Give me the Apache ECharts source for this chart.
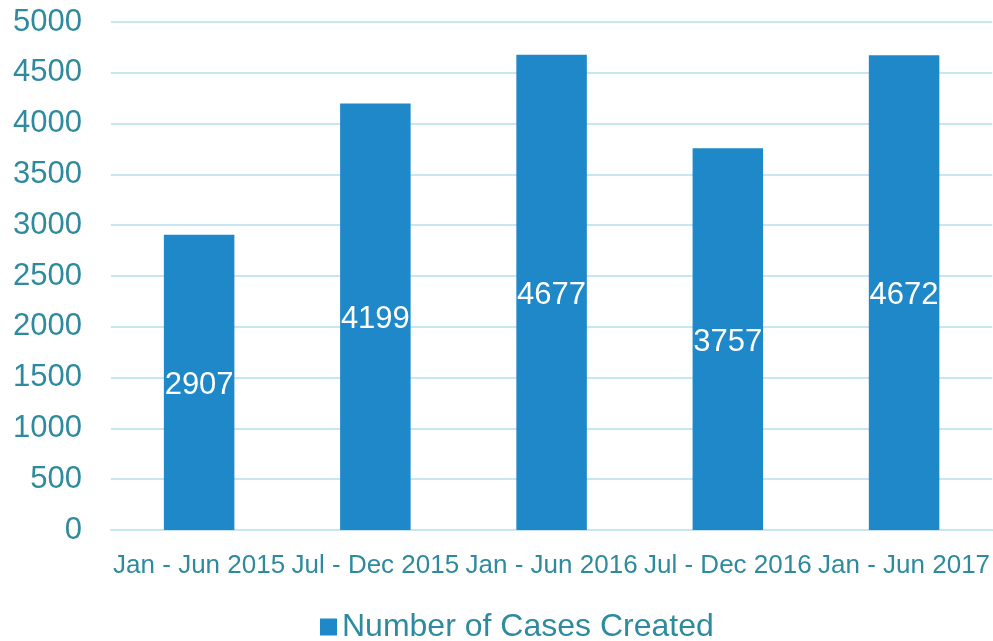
<!DOCTYPE html>
<html><head><meta charset="utf-8">
<script src="https://cdn.jsdelivr.net/npm/echarts@6/dist/echarts.min.js"></script>
<style>html,body{margin:0;padding:0;background:#fff}#c{width:993px;height:641px}</style>
</head><body><div id="c"></div>
<script>
var categories = ['Jan - Jun 2015','Jul - Dec 2015','Jan - Jun 2016','Jul - Dec 2016','Jan - Jun 2017'];
var cases = [2907, 4199, 4677, 3757, 4672];
var seriesName = 'Number of Cases Created';
var textColor = '#2e8a9e';
var chart = echarts.init(document.getElementById('c'));
chart.setOption({
  animation:false,
  textStyle:{fontFamily:'Liberation Sans, Arial, sans-serif'},
  grid:{left:111,right:0,top:22,bottom:111,containLabel:false},
  legend:{bottom:-7,left:315,itemWidth:17,itemHeight:17,itemGap:8,icon:'rect',
    textStyle:{fontSize:32,color:textColor,fontFamily:'Liberation Sans, Arial, sans-serif'},data:[seriesName]},
  xAxis:{type:'category',data:categories,
    axisLine:{show:true,lineStyle:{color:'#c8e6ef',width:2}},axisTick:{show:false},
    axisLabel:{fontSize:26,color:textColor,margin:23,interval:0}},
  yAxis:{type:'value',min:0,max:5000,interval:500,
    axisLine:{show:false},axisTick:{show:false},
    splitLine:{lineStyle:{color:'#c8e6ef',width:2}},
    axisLabel:{fontSize:31,color:textColor,margin:29,formatter:function(v){return String(v);}}},
  series:[{name:seriesName,type:'bar',data:cases,barWidth:'40%',
    itemStyle:{color:'#1e88c8'},
    label:{show:true,position:'inside',offset:[0,3],color:'#fff',fontSize:31}}]
});
</script></body></html>
